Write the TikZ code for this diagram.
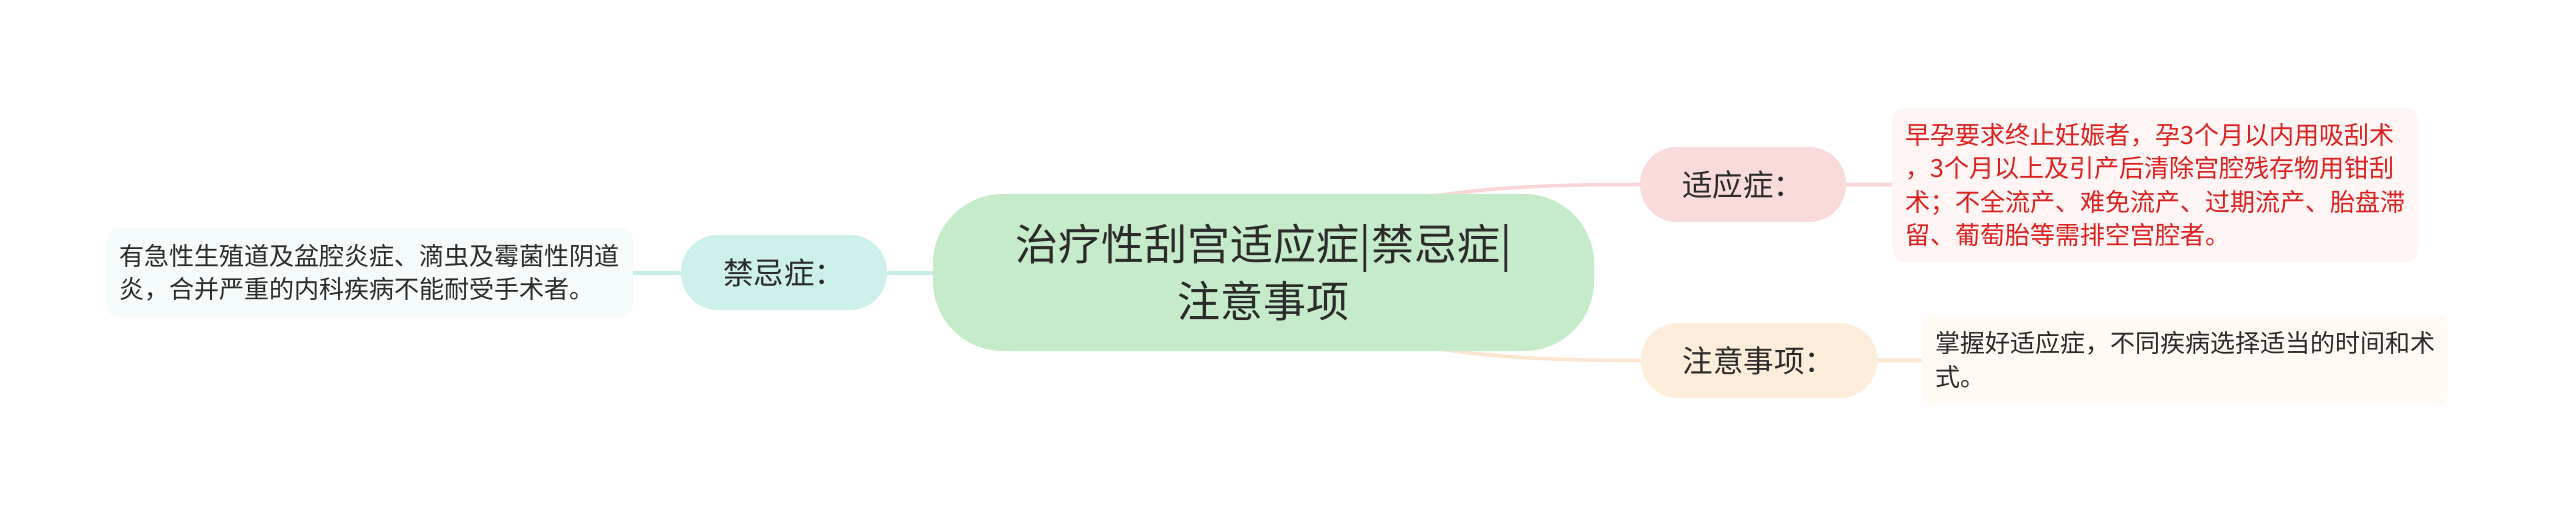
\documentclass[tikz,border=0pt]{standalone}
\usepackage{fontspec}
\setmainfont{Noto Sans CJK SC}
\usetikzlibrary{backgrounds}

\definecolor{textdark}{HTML}{2B2B2B}
\definecolor{notered}{HTML}{DA2020}
\definecolor{rootgreen}{HTML}{C6EBCB}
\definecolor{jinfill}{HTML}{CDF0EA}
\definecolor{shifill}{HTML}{FADBDC}
\definecolor{zhufill}{HTML}{FDEEDC}
\definecolor{jinnote}{HTML}{F4FBFA}
\definecolor{shinote}{HTML}{FFF5F5}
\definecolor{zhunote}{HTML}{FFFAF4}
\definecolor{jinline}{HTML}{C8EDE7}
\definecolor{shiline}{HTML}{F8D6D7}
\definecolor{zhuline}{HTML}{FDE5D0}

\begin{document}
\begin{tikzpicture}[x=1pt,y=-1pt]
    \tikzset{
      RootStyle/.style = {fill=rootgreen, rounded corners=70pt, minimum width=661pt,
        minimum height=157pt, align=center, text=textdark, font=\fontsize{43}{57}\selectfont},
      TopicStyle/.style = {rounded corners=37pt, minimum height=75pt, inner xsep=42pt,
        text=textdark, font=\fontsize{30.5}{34}\selectfont},
      NoteStyle/.style = {rounded corners=12pt, align=left, inner xsep=13pt, inner ysep=10pt,
        text=textdark, font=\fontsize{25}{33.3}\selectfont},
      EdgeStyle/.style = {line width=4pt},
      CurveStyle/.style = {line width=3.5pt}
    }
    \useasboundingbox (0,0) rectangle (2560,513);

    \node[RootStyle] (Root) at (1263.5,272.5) {治疗性刮宫适应症|禁忌症|\\注意事项};

    \node[TopicStyle, fill=jinfill] (Jin) at (784,272.5) {禁忌症：};
    \node[TopicStyle, fill=shifill] (Shi) at (1743,184.5) {适应症：};
    \node[TopicStyle, fill=zhufill] (Zhu) at (1759,360.5) {注意事项：};

    \node[NoteStyle, fill=jinnote, anchor=east, minimum height=89pt] (JinNote) at (633,272.5)
      {有急性生殖道及盆腔炎症、滴虫及霉菌性阴道\\炎，合并严重的内科疾病不能耐受手术者。};
    \node[NoteStyle, fill=shinote, text=notered, anchor=west, minimum height=154pt] (ShiNote) at (1892,185)
      {早孕要求终止妊娠者，孕3个月以内用吸刮术\\，3个月以上及引产后清除宫腔残存物用钳刮\\术；不全流产、难免流产、过期流产、胎盘滞\\留、葡萄胎等需排空宫腔者。};
    \node[NoteStyle, fill=zhunote, anchor=west, minimum height=90pt] (ZhuNote) at (1922,360)
      {掌握好适应症，不同疾病选择适当的时间和术\\式。};

    \begin{scope}[on background layer]
      \fill[white] (0,0) rectangle (2560,513);
      \draw[EdgeStyle, jinline] (Root) -- (Jin);
      \draw[EdgeStyle, jinline] (Jin) -- (JinNote);
      \draw[CurveStyle, shiline] (Root.center) .. controls +(67,-82) and +(-141,0) .. (Shi.west);
      \draw[CurveStyle, zhuline] (Root.center) .. controls +(67,80) and +(-141,0) .. (Zhu.west);
      \draw[EdgeStyle, shiline] (Shi) -- (ShiNote);
      \draw[EdgeStyle, zhuline] (Zhu) -- (ZhuNote);
    \end{scope}
\end{tikzpicture}
\end{document}
